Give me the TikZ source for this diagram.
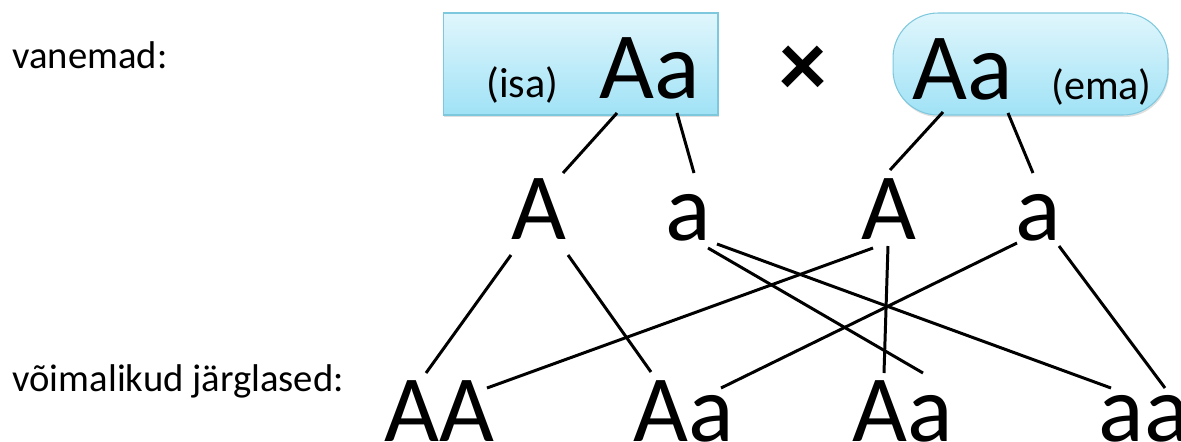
\documentclass[tikz,border=0pt]{standalone}
\usepackage{fontspec}
\setmainfont{Carlito}
\usetikzlibrary{calc,shadows}
\definecolor{tianlan}{RGB}{224,246,252}
\definecolor{tianlanb}{RGB}{160,226,246}
\definecolor{bianlan}{RGB}{126,200,222}
\tikzset{ %亲代方框
    parent/.style={draw=bianlan, line width=0.6pt, top color=tianlan, bottom color=tianlanb,
        drop shadow={opacity=0.25, shadow xshift=0.5pt, shadow yshift=-1.2pt},
        minimum width=5.5cm, minimum height=2.04cm, inner sep=0pt},
    zimu/.style={font=\fontsize{54}{60}\selectfont, inner sep=0pt},
    xiaozi/.style={font=\fontsize{24}{28}\selectfont, inner sep=0pt},
    shuoming/.style={font=\fontsize{22}{26}\selectfont, inner sep=0pt, anchor=base west},
}

\begin{document}
\begin{tikzpicture}[x=0.02cm, y=-0.02cm, line width=1.7pt]
		\useasboundingbox (0,0) rectangle (1181,441);
		\node[shuoming] (vanem) at (11,68) {vanemad:};
		\node[shuoming] (jarg) at (11,391) {võimalikud järglased:};
		% 亲代
		\node[parent] (isa) at (580.5,64) {};
		\node[parent, rounded corners=0.9cm] (ema) at (1030.5,64) {};
		\node[xiaozi, anchor=base] (isat) at (522.5,97) {(isa)};
		\node[zimu, anchor=base] (fAa) at (649.5,98) {Aa};
		\node[zimu, font=\fontsize{54}{60}\selectfont\bfseries] (rist) at (803,71) {×};
		\node[zimu, anchor=base] (mAa) at (962.5,99) {Aa};
		\node[xiaozi, anchor=base] (emat) at (1101.5,99) {(ema)};
		% 配子
		\node[zimu, anchor=base] (fA) at (538.5,239) {A};
		\node[zimu, anchor=base] (fa) at (688.5,240) {a};
		\node[zimu, anchor=base] (mA) at (889,239) {A};
		\node[zimu, anchor=base] (ma) at (1038,240) {a};
		% 子代
		\node[zimu, anchor=base] (AA) at (439,441) {AA};
		\node[zimu, anchor=base] (Aa1) at (683.5,441) {Aa};
		\node[zimu, anchor=base] (Aa2) at (902.5,441) {Aa};
		\node[zimu, anchor=base] (aa) at (1144,441) {aa};
		\foreach \s/\sx/\sy/\t/\tx/\ty in {
			fAa/-32.5/15/fA/24.5/-66, fAa/27.5/15/fa/5.5/-67,
			mAa/-19.5/13/mA/1/-69, mAa/45.5/14/ma/-5/-67,
			fA/-27.5/16/AA/-13/-68, fA/29.5/16/Aa1/-32.5/-69,
			fa/19.5/8/Aa2/20.5/-68, fa/28.5/4/aa/-33/-53,
			mA/-16/9/AA/48/-53, mA/-1/7/Aa2/-18.5/-68,
			ma/-21/3/Aa1/37.5/-53, ma/21/6/aa/21/-53}{
			\draw ($(\s.base)+(\sx,\sy)$) -- ($(\t.base)+(\tx,\ty)$);
		}
	\end{tikzpicture}
\end{document}
